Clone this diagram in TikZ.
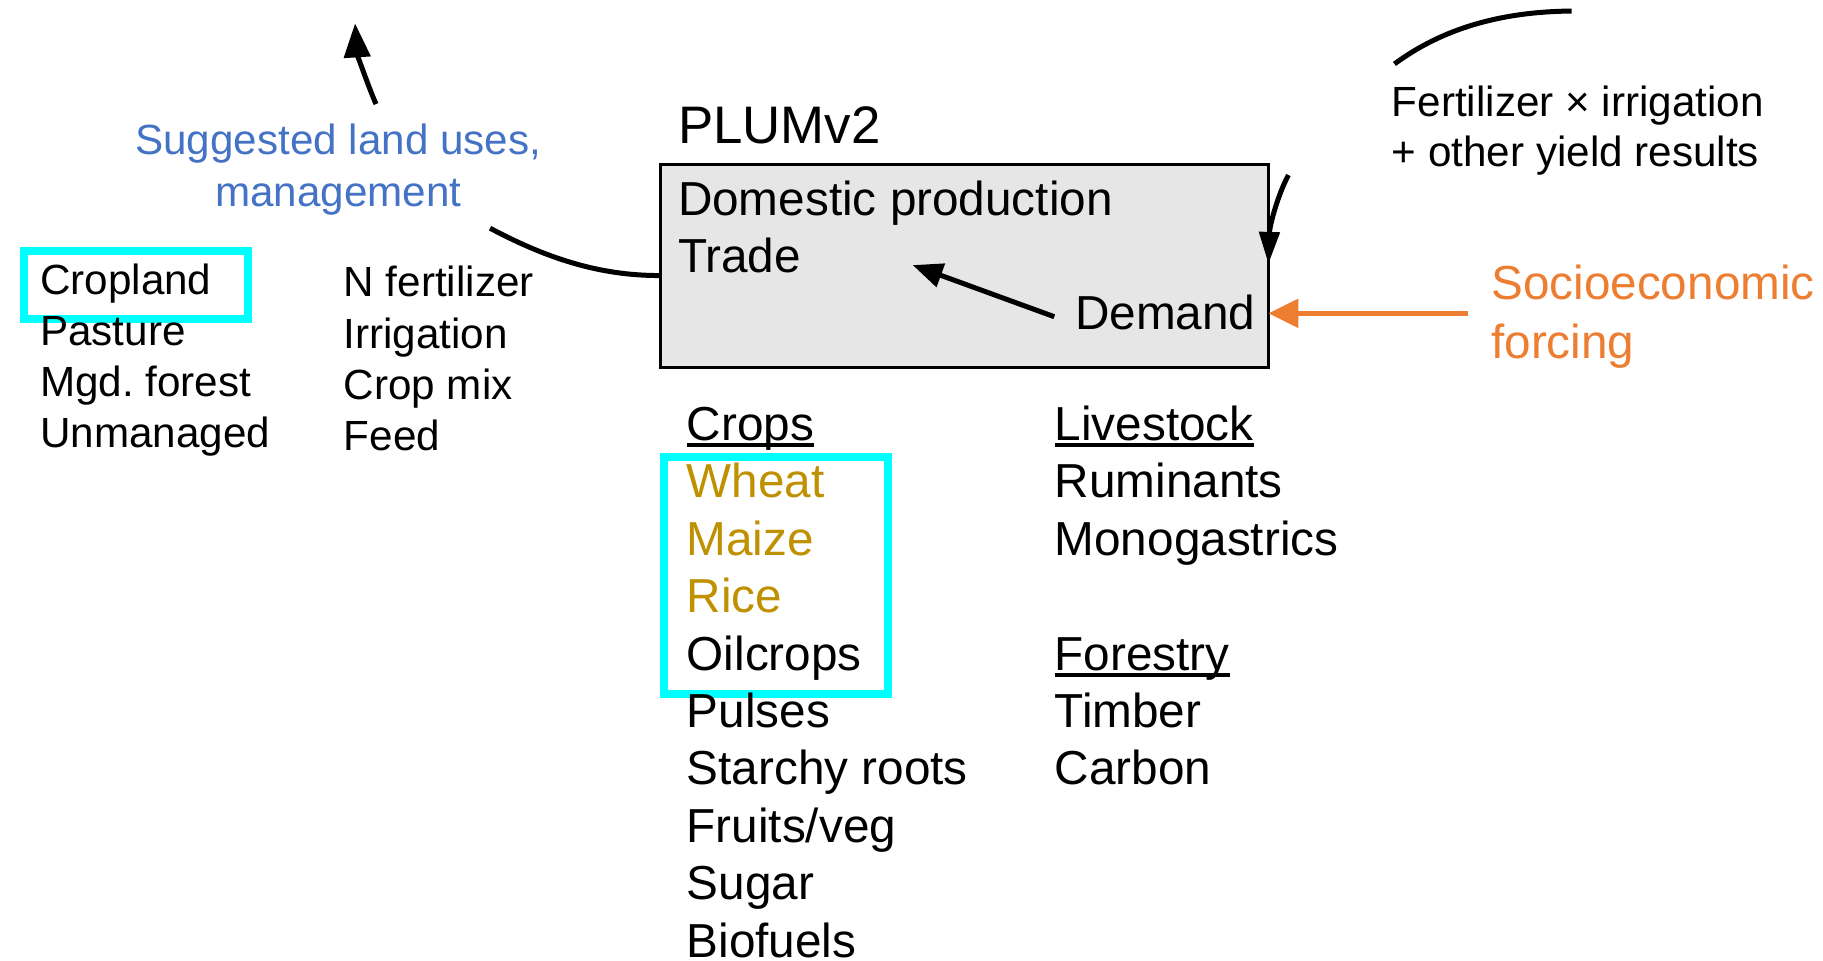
\documentclass[tikz,border=0pt]{standalone}
\usepackage{fontspec}
\setmainfont{Liberation Sans}
\usetikzlibrary{arrows.meta}
\definecolor{sugblue}{RGB}{68,114,196}
\definecolor{cropgold}{RGB}{191,144,0}
\definecolor{socorange}{RGB}{237,125,49}
\definecolor{boxgray}{RGB}{230,230,230}
\definecolor{hlcyan}{RGB}{0,255,255}
\begin{document}
\begin{tikzpicture}[x=1.1626pt,y=-1.1626pt,
  bigtxt/.style={inner sep=0pt, anchor=base west, font=\fontsize{47.7}{57}\selectfont},
  smalltxt/.style={inner sep=0pt, anchor=base west, font=\fontsize{42.2}{51}\selectfont},
  hlbox/.style={draw=hlcyan, line width=8pt, inner sep=0pt, anchor=north west},
  conn/.style={line width=5pt, draw=black},
  tiparrow/.style={-{Triangle[length=34pt,width=26pt]}},
  uline/.style={line width=4pt}
]
\useasboundingbox (0,0) rectangle (1568,826);

% main box
\node (plumbox) [draw=black, fill=boxgray, line width=3pt, inner sep=0pt,
  minimum width=608pt, minimum height=203.5pt, anchor=north west] at (567,140) {};
\node (plum) [bigtxt, font=\fontsize{52.8}{63}\selectfont] at (583,123.3) {PLUMv2};
\node (domestic) [bigtxt] at (583,185.5) {Domestic production};
\node (trade) [bigtxt] at (583,234.5) {Trade};
\node (demand) [bigtxt, anchor=base east] at (1080,283.5) {Demand};

% highlight boxes
\node (cropHL) [hlbox, minimum width=224pt, minimum height=68.6pt] at (17.6,212.2) {};
\node (cerealHL) [hlbox, minimum width=224pt, minimum height=237pt] at (567.7,389.6) {};

% left lists
\node (cropland) [smalltxt] at (34.4,253.2) {Cropland};
\node (pasture) [smalltxt] at (34.4,297.5) {Pasture};
\node (mgdforest) [smalltxt] at (34.4,341.2) {Mgd.\ forest};
\node (unmanaged) [smalltxt] at (34.4,384.5) {Unmanaged};
\node (nfert) [smalltxt] at (295.5,255.2) {N fertilizer};
\node (irrig) [smalltxt] at (295.5,299.6) {Irrigation};
\node (cropmix) [smalltxt] at (295.5,344) {Crop mix};
\node (feed) [smalltxt] at (295.5,387.6) {Feed};

% suggested land uses
\node (suggestedA) [smalltxt, anchor=base, text=sugblue] at (291,133.3) {Suggested land uses,};
\node (suggestedB) [smalltxt, anchor=base, text=sugblue] at (291,177.8) {management};

% fertilizer text
\node (fertA) [smalltxt] at (1197,100.4) {Fertilizer × irrigation};
\node (fertB) [smalltxt] at (1197,143.4) {+ other yield results};

% socioeconomic
\node (socioA) [bigtxt, text=socorange] at (1282.5,258) {Socioeconomic};
\node (socioB) [bigtxt, text=socorange] at (1282.5,308) {forcing};

% crops column
\node (crops) [bigtxt] at (590.5,378.7) {Crops};
\node (wheat) [bigtxt, text=cropgold] at (590.5,428.1) {Wheat};
\node (maize) [bigtxt, text=cropgold] at (590.5,477.5) {Maize};
\node (rice) [bigtxt, text=cropgold] at (590.5,526.9) {Rice};
\node (oilcrops) [bigtxt] at (590.5,576.3) {Oilcrops};
\node (pulses) [bigtxt] at (590.5,625.7) {Pulses};
\node (starchy) [bigtxt] at (590.5,675.1) {Starchy roots};
\node (fruits) [bigtxt] at (590.5,724.5) {Fruits/veg};
\node (sugar) [bigtxt] at (590.5,773.9) {Sugar};
\node (biofuels) [bigtxt] at (590.5,823.3) {Biofuels};

% livestock / forestry column
\node (livestock) [bigtxt] at (907,378.7) {Livestock};
\node (ruminants) [bigtxt] at (907,428.1) {Ruminants};
\node (monogastrics) [bigtxt] at (907,477.5) {Monogastrics};
\node (forestry) [bigtxt] at (907,576.3) {Forestry};
\node (timber) [bigtxt] at (907,625.7) {Timber};
\node (carbon) [bigtxt] at (907,675.1) {Carbon};

% underlines
\draw[uline] ([yshift=-5pt]crops.base west) -- ([yshift=-5pt]crops.base east);
\draw[uline] ([yshift=-5pt]livestock.base west) -- ([yshift=-5pt]livestock.base east);
\draw[uline] ([yshift=-5pt]forestry.base west) -- ([yshift=-5pt]forestry.base east);

% connector coordinates
\coordinate (upTail) at (323.4,89.5);
\coordinate (upTip) at (305.4,20.1);
\coordinate (mgmtEnd) at (421.5,196.3);
\coordinate (boxLeft) at (567,237);
\coordinate (demandTail) at (906.8,272.4);
\coordinate (tradeTip) at (785,228);
\coordinate (yieldTail) at (1108.2,150.5);
\coordinate (yieldTip) at (1091,227);
\coordinate (arcStart) at (1199.4,55);
\coordinate (arcEnd) at (1351.8,9.5);
\coordinate (socioTail) at (1263,269.5);
\coordinate (boxRight) at (1091,269.5);

% connectors
\draw[conn, tiparrow] (upTail) .. controls (315,70) and (307,45) .. (upTip);
\draw[conn] (mgmtEnd) .. controls (470,222) and (515,237) .. (boxLeft);
\draw[conn, -{Triangle[length=30pt,width=24pt]}] (demandTail) -- (tradeTip);
\draw[conn, -{Triangle[length=32pt,width=20pt]}] (yieldTail) .. controls (1098,170) and (1092,195) .. (yieldTip);
\draw[conn] (arcStart) .. controls (1240,25) and (1290,10) .. (arcEnd);
\draw[line width=5.5pt, draw=socorange, -{Triangle[length=30pt,width=28pt]}] (socioTail) -- (boxRight);
\end{tikzpicture}
\end{document}
